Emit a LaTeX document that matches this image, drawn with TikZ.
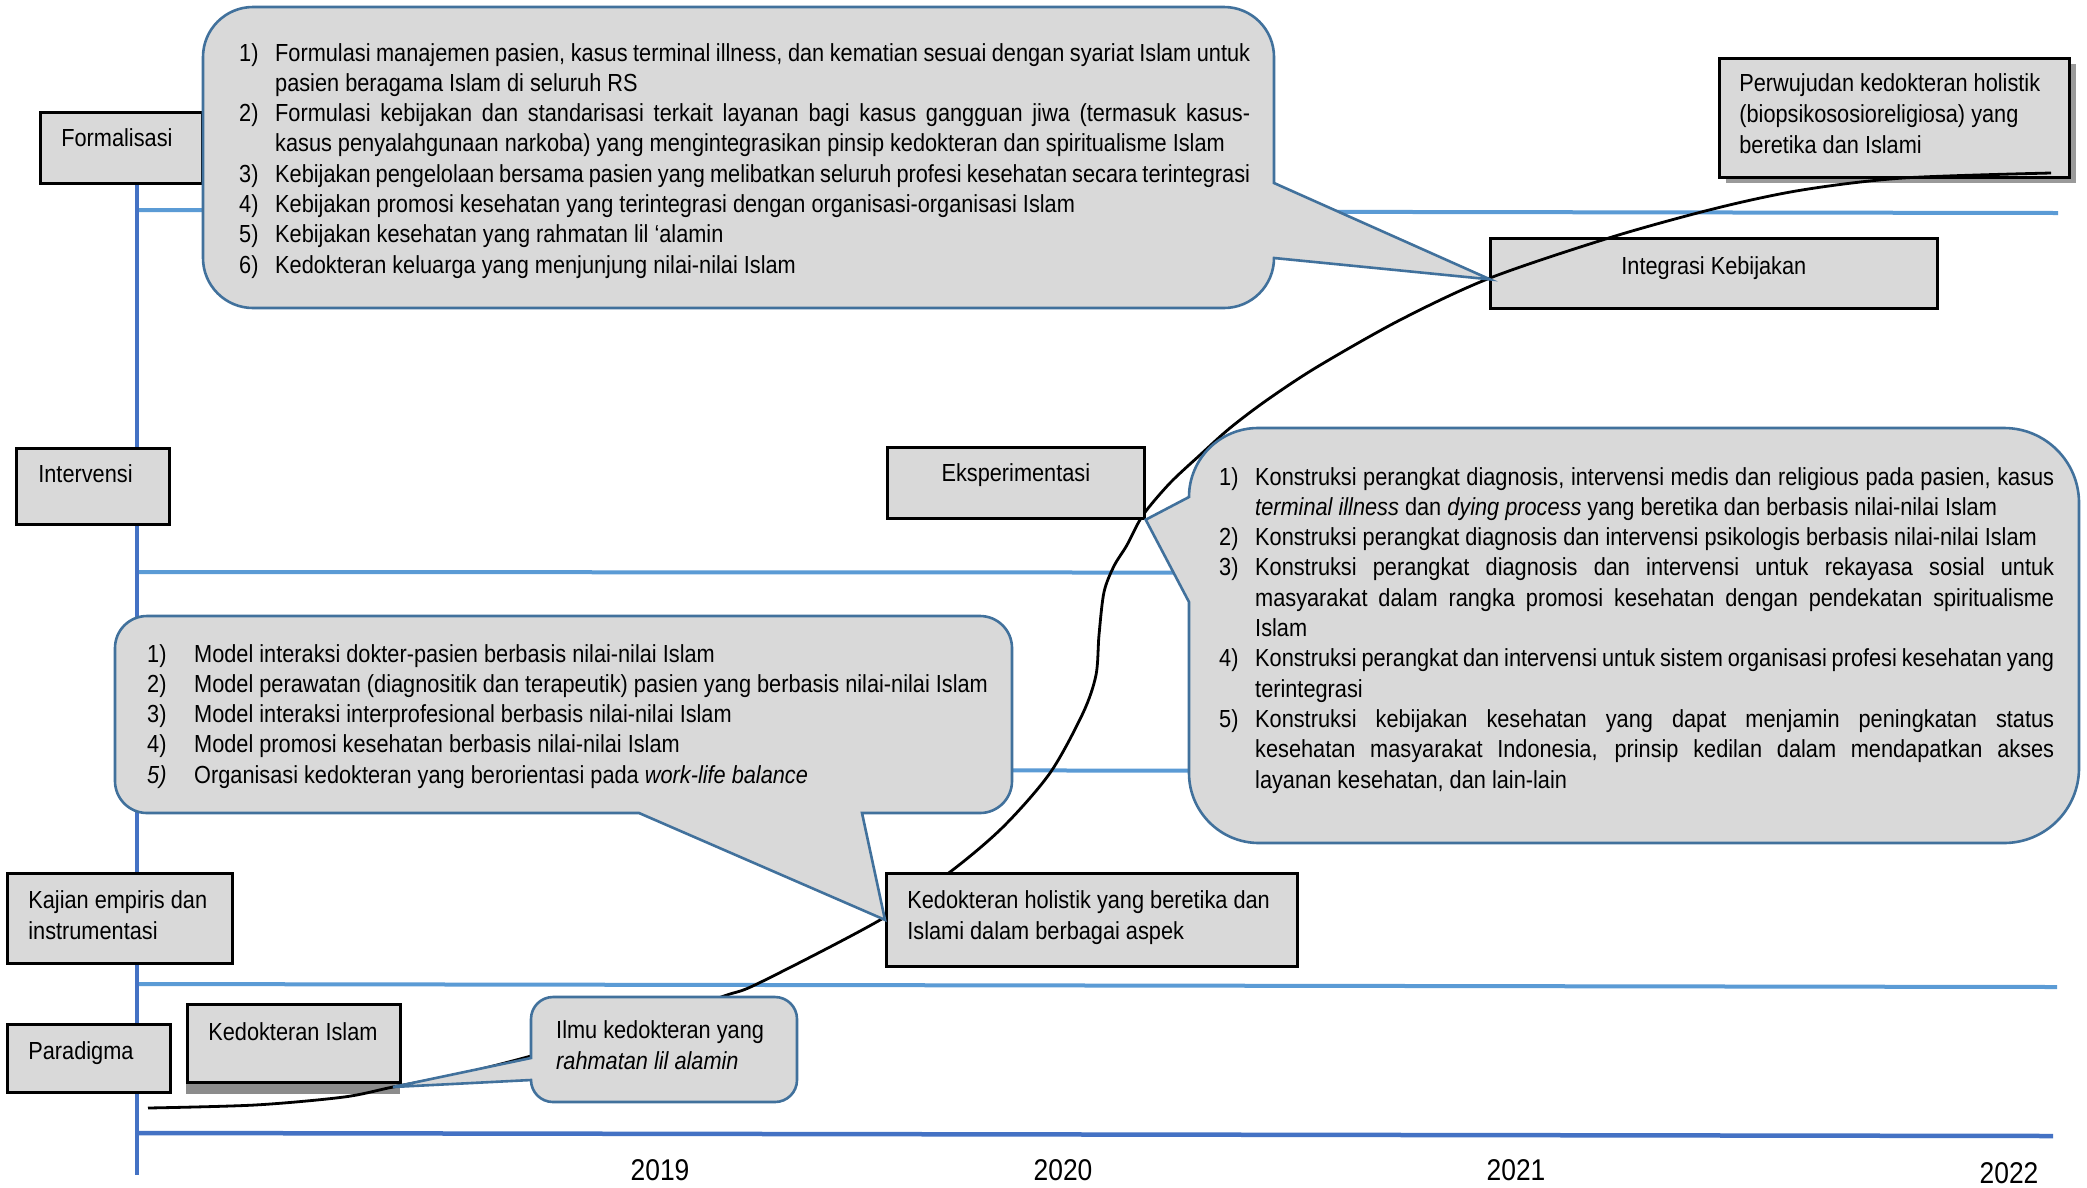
\documentclass[tikz,border=0pt]{standalone}
\usepackage{fontspec}
\setmainfont{Liberation Sans}[FakeStretch=0.88]
\usetikzlibrary{calc}

\definecolor{boxgray}{HTML}{D9D9D9}
\definecolor{calloutblue}{HTML}{41719C}
\definecolor{axisblue}{HTML}{4472C4}
\definecolor{lineblue}{HTML}{5B9BD5}
\definecolor{shadowgray}{HTML}{9A9A9A}
\definecolor{darkshadow}{HTML}{8C8C8C}

\newcommand\txtfont{\fontsize{24.7}{30.3}\selectfont}
\newcommand\boxfont{\fontsize{24.7}{31}\selectfont}
\newcommand\yearfont{\fontsize{30}{36}\selectfont}
% natural word spaces inside aligned node text
\newcommand\natsp{\spaceskip=0pt\xspaceskip=0pt\relax}
% a box label: one or more lines, first baseline is the box baseline
\newcommand\blab[1]{\mbox{\vtop{\natsp\boxfont#1}}}

% one line of a numbered list: indent width, number, text
\newcommand\ctl[3]{\hbox{\makebox[#1][l]{#2}#3}}
% same, but the text is stretched to a full justified line
\newcommand\ctj[4]{\hbox{\makebox[#1][l]{#2}\makebox[#3][s]{#4}}}

\begin{document}
\begin{tikzpicture}[x=1pt,y=-1pt,
  box/.style={draw=black, line width=2.7pt, fill=boxgray, anchor=north west,
    inner ysep=0pt, align=left, font=\boxfont},
  cbox/.style={box, align=center},
  callout/.style={draw=calloutblue, line width=2.6pt, fill=boxgray, line join=miter},
  axis/.style={draw=axisblue, line width=4.5pt},
  grid/.style={draw=lineblue, line width=4pt},
  trend/.style={draw=black, line width=2.8pt},
  ctext/.style={anchor=base west, inner sep=0pt, font=\txtfont},
  year/.style={anchor=base, inner sep=0pt, font=\yearfont}]

\fill[white] (0,0) rectangle (2087,1187);
\useasboundingbox (0,0) rectangle (2087,1187);

% time axis and stage separators
\draw[grid] (137,210) -- (2058,213);
\draw[grid] (137,572) -- (2058,573);
\draw[grid] (137,770) -- (2058,771);
\draw[grid] (137,984) -- (2057,987);
\draw[axis] (137,182) -- (137,1175);
\draw[axis] (137,1133) -- (2053,1136);

% stage labels
\node[box, text width=120pt, inner xsep=21pt, text height=34pt, text depth=37pt] (form) at (39,111)
  {\blab{\hbox{Formalisasi}}};
\node[box, text width=109pt, inner xsep=22pt, text height=34pt, text depth=42pt] (interv) at (15,447)
  {\blab{\hbox{Intervensi}}};
\node[box, text width=183pt, inner xsep=21pt, text height=35pt, text depth=55pt] (kajian) at (6,872)
  {\blab{\hbox{Kajian empiris dan}\hbox{instrumentasi}}};
\node[box, text width=121pt, inner xsep=21pt, text height=35pt, text depth=33pt] (para) at (6,1023)
  {\blab{\hbox{Paradigma}}};

% milestones
\fill[darkshadow] (186,1014) rectangle (400,1094);
\node[box, text width=171pt, inner xsep=21pt, text height=36pt, text depth=42pt] (kislam) at (186,1003)
  {\blab{\hbox{Kedokteran Islam}}};
\node[cbox, text width=427pt, inner xsep=10pt, text height=36pt, text depth=34pt] (integ) at (1489,237)
  {\blab{\hbox{Integrasi Kebijakan}}};
\fill[shadowgray] (1726,64) rectangle (2076,183);
\node[box, text width=310pt, inner xsep=20pt, text height=33pt, text depth=86pt] (perw) at (1718,57)
  {\blab{\hbox{Perwujudan kedokteran holistik}\hbox{(biopsikososioreligiosa) yang}\hbox{beretika dan Islami}}};

% growth curve
\draw[trend] plot[smooth, tension=0.5] coordinates {
  (148,1108) (255,1105) (344,1097) (393,1087) (460,1074) (531,1056) (640,1025)
  (724,996) (759,983) (880,920) (950,872) (1003,827) (1050,773) (1083,713)
  (1096,675) (1099,635) (1104,592) (1114,566) (1127,545) (1143,515) (1170,483)
  (1200,455) (1230,428) (1267,400) (1317,367) (1400,320) (1490,278) (1612,237)
  (1717,208) (1802,190) (1903,178) (2051,173)};

\node[cbox, text width=237pt, inner xsep=10pt, text height=34pt, text depth=37pt] (eksp) at (886,446)
  {\blab{\hbox{Eksperimentasi}}};
\node[box, text width=369pt, inner xsep=21pt, text height=35pt, text depth=58pt] (holis) at (885,872)
  {\blab{\hbox{Kedokteran holistik yang beretika dan}\hbox{Islami dalam berbagai aspek}}};

% pointer tips
\coordinate (toptip) at ($(integ.west)+(1,6)$);
\coordinate (ilmutip) at (393,1087);

% callout: formalisation
\draw[callout] (1274,183) -- (toptip) -- (1274,258)
  arc[start angle=0,end angle=90,radius=50] -- (253,308)
  arc[start angle=90,end angle=180,radius=50] -- (203,57)
  arc[start angle=180,end angle=270,radius=50] -- (1224,7)
  arc[start angle=270,end angle=360,radius=50] -- cycle;
\node[ctext] (ftext) at (239,61) {\vtop{\txtfont
  \ctj{36pt}{1)}{975pt}{Formulasi manajemen pasien, kasus terminal illness, dan kematian sesuai dengan syariat Islam untuk}
  \ctl{36pt}{}{pasien beragama Islam di seluruh RS}
  \ctj{36pt}{2)}{975pt}{Formulasi kebijakan dan standarisasi terkait layanan bagi kasus gangguan jiwa (termasuk kasus-}
  \ctl{36pt}{}{kasus penyalahgunaan narkoba) yang mengintegrasikan pinsip kedokteran dan spiritualisme Islam}
  \ctj{36pt}{3)}{975pt}{Kebijakan pengelolaan bersama pasien yang melibatkan seluruh profesi kesehatan secara terintegrasi}
  \ctl{36pt}{4)}{Kebijakan promosi kesehatan yang terintegrasi dengan organisasi-organisasi Islam}
  \ctl{36pt}{5)}{Kebijakan kesehatan yang rahmatan lil ‘alamin}
  \ctl{36pt}{6)}{Kedokteran keluarga yang menjunjung nilai-nilai Islam}}};

% callout: experimentation
\draw[callout] (1189,602) -- (eksp.south east) -- (1189,497)
  arc[start angle=180,end angle=270,radius=69] -- (2004,428)
  arc[start angle=270,end angle=360,radius=75] -- (2079,768)
  arc[start angle=0,end angle=90,radius=75] -- (1259,843)
  arc[start angle=90,end angle=180,radius=70] -- cycle;
\node[ctext] (etext) at (1219,485) {\vtop{\txtfont
  \ctj{36pt}{1)}{799pt}{Konstruksi perangkat diagnosis, intervensi medis dan religious pada pasien, kasus}
  \ctl{36pt}{}{\textit{terminal illness} dan \textit{dying process} yang beretika dan berbasis nilai-nilai Islam}
  \ctl{36pt}{2)}{Konstruksi perangkat diagnosis dan intervensi psikologis berbasis nilai-nilai Islam}
  \ctj{36pt}{3)}{799pt}{Konstruksi perangkat diagnosis dan intervensi untuk rekayasa sosial untuk}
  \ctj{36pt}{}{799pt}{masyarakat dalam rangka promosi kesehatan dengan pendekatan spiritualisme}
  \ctl{36pt}{}{Islam}
  \ctj{36pt}{4)}{799pt}{Konstruksi perangkat dan intervensi untuk sistem organisasi profesi kesehatan yang}
  \ctl{36pt}{}{terintegrasi}
  \ctj{36pt}{5)}{799pt}{Konstruksi kebijakan kesehatan yang dapat menjamin peningkatan status}
  \ctj{36pt}{}{799pt}{kesehatan masyarakat Indonesia, prinsip kedilan dalam mendapatkan akses}
  \ctl{36pt}{}{layanan kesehatan, dan lain-lain}}};

% callout: intervention models
\draw[callout] (639,813) -- (holis.west) -- (862,813) -- (980,813)
  arc[start angle=90,end angle=0,radius=32] -- (1012,648)
  arc[start angle=0,end angle=-90,radius=32] -- (147,616)
  arc[start angle=270,end angle=180,radius=32] -- (115,781)
  arc[start angle=180,end angle=90,radius=32] -- cycle;
\node[ctext] (mtext) at (147,662) {\vtop{\txtfont
  \ctl{47pt}{1)}{Model interaksi dokter-pasien berbasis nilai-nilai Islam}
  \ctl{47pt}{2)}{Model perawatan (diagnositik dan terapeutik) pasien yang berbasis nilai-nilai Islam}
  \ctl{47pt}{3)}{Model interaksi interprofesional berbasis nilai-nilai Islam}
  \ctl{47pt}{4)}{Model promosi kesehatan berbasis nilai-nilai Islam}
  \ctl{47pt}{\textit{5)}}{Organisasi kedokteran yang berorientasi pada \textit{work-life balance}}}};

% callout: paradigm
\draw[callout] (531,1058) -- (ilmutip) -- (531,1080)
  arc[start angle=180,end angle=90,radius=22] -- (775,1102)
  arc[start angle=90,end angle=0,radius=22] -- (797,1019)
  arc[start angle=0,end angle=-90,radius=22] -- (553,997)
  arc[start angle=270,end angle=180,radius=22] -- cycle;
\node[ctext] (itext) at (556,1038) {\vtop{\boxfont
  \hbox{Ilmu kedokteran yang}\hbox{\textit{rahmatan lil alamin}}}};

% years
\node[year] (y2019) at (660,1180) {2019};
\node[year] (y2020) at (1063,1180) {2020};
\node[year] (y2021) at (1516,1180) {2021};
\node[year] (y2022) at (2009,1183) {2022};
\end{tikzpicture}
\end{document}
